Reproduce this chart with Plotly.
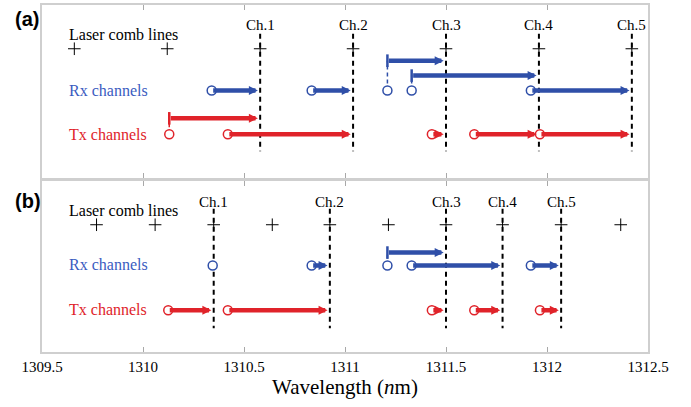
import plotly.graph_objects as go

# ---------------- data ----------------
ch_labels = ["Ch.1", "Ch.2", "Ch.3", "Ch.4", "Ch.5"]

# Panel (a)
comb_a = [1309.66, 1310.12, 1310.58, 1311.04, 1311.50, 1311.96, 1312.42]
ch_a = [1310.58, 1311.04, 1311.50, 1311.96, 1312.42]
rx_start_a = [1310.34, 1310.835, 1311.21, 1311.33, 1311.92]
rx_end_a = [1310.58, 1311.04, 1311.50, 1311.96, 1312.42]
rx_lift_a = [0, 0, 2, 1, 0]
tx_start_a = [1310.13, 1310.42, 1311.43, 1311.64, 1311.965]
tx_end_a = [1310.58, 1311.04, 1311.50, 1311.96, 1312.42]
tx_lift_a = [1, 0, 0, 0, 0]

# Panel (b)
comb_b = [1309.77, 1310.06, 1310.35, 1310.64, 1310.925, 1311.215, 1311.50, 1311.78, 1312.07, 1312.365]
ch_b = [1310.35, 1310.925, 1311.50, 1311.78, 1312.07]
rx_start_b = [1310.345, 1310.835, 1311.21, 1311.33, 1311.92]
rx_end_b = [1310.345, 1310.925, 1311.50, 1311.78, 1312.07]
rx_lift_b = [0, 0, 1, 0, 0]
tx_start_b = [1310.125, 1310.42, 1311.43, 1311.64, 1311.965]
tx_end_b = [1310.35, 1310.925, 1311.50, 1311.78, 1312.07]
tx_lift_b = [0, 0, 0, 0, 0]

x_ticks = [1309.5, 1310, 1310.5, 1311, 1311.5, 1312, 1312.5]
x_tick_text = ["1309.5", "1310", "1310.5", "1311", "1311.5", "1312", "1312.5"]

# ---------------- style ----------------
BLUE = "#2f4fa8"
BLUE_TXT = "#3a5bbf"
RED = "#e0232a"
FRAME = "#cfcfcf"
SERIF = "Liberation Serif"

# vertical layout of each panel (units = px from panel top)
panels = [
    dict(xa="x", ya="y", comb=comb_a, ch=ch_a,
         rx=(rx_start_a, rx_end_a, rx_lift_a), tx=(tx_start_a, tx_end_a, tx_lift_a),
         y_chlab=20, y_laser=30, y_comb=44, y_rx=[86, 71, 56], y_tx=[130, 114],
         y_rxlab=86, y_txlab=130, dash=(29, 147)),
    dict(xa="x2", ya="y2", comb=comb_b, ch=ch_b,
         rx=(rx_start_b, rx_end_b, rx_lift_b), tx=(tx_start_b, tx_end_b, tx_lift_b),
         y_chlab=21, y_laser=30, y_comb=44, y_rx=[85, 72], y_tx=[130],
         y_rxlab=84, y_txlab=129, dash=(28, 148)),
]

fig = go.Figure()
annotations = []

for p in panels:
    xa, ya = p["xa"], p["ya"]
    # channel dashed lines
    xs, ys = [], []
    for c in p["ch"]:
        xs += [c, c, None]
        ys += [p["dash"][0], p["dash"][1], None]
    fig.add_trace(go.Scatter(x=xs, y=ys, mode="lines", xaxis=xa, yaxis=ya,
                             line=dict(color="black", width=2, dash="5px,4px"),
                             hoverinfo="skip", showlegend=False))
    # comb lines
    fig.add_trace(go.Scatter(x=p["comb"], y=[p["y_comb"]] * len(p["comb"]), mode="markers",
                             xaxis=xa, yaxis=ya,
                             marker=dict(symbol="cross-thin", size=9,
                                         line=dict(color="black", width=1)),
                             hoverinfo="skip", showlegend=False))
    # channel labels
    for c, lab in zip(p["ch"], ch_labels):
        annotations.append(dict(x=c, y=p["y_chlab"], xref=xa, yref=ya, text=lab,
                                showarrow=False, font=dict(family=SERIF, size=15, color="black")))
    annotations.append(dict(x=1309.625, y=p["y_laser"], xref=xa, yref=ya, text="Laser comb lines",
                            xanchor="left", showarrow=False,
                            font=dict(family=SERIF, size=16, color="black")))
    annotations.append(dict(x=1309.625, y=p["y_rxlab"], xref=xa, yref=ya, text="Rx channels",
                            xanchor="left", showarrow=False,
                            font=dict(family=SERIF, size=16, color=BLUE_TXT)))
    annotations.append(dict(x=1309.625, y=p["y_txlab"], xref=xa, yref=ya, text="Tx channels",
                            xanchor="left", showarrow=False,
                            font=dict(family=SERIF, size=16, color=RED)))

    for (starts, ends, lifts), levels, col in [(p["rx"], p["y_rx"], BLUE), (p["tx"], p["y_tx"], RED)]:
        for s, e, lf in zip(starts, ends, lifts):
            yl = levels[lf]
            if lf > 0:
                # dashed connector from circle up to lifted arrow
                fig.add_trace(go.Scatter(x=[s, s], y=[levels[0], yl], mode="lines",
                                         xaxis=xa, yaxis=ya,
                                         line=dict(color=col, width=1.5, dash="4px,3px"),
                                         hoverinfo="skip", showlegend=False))
                fig.add_trace(go.Scatter(x=[s], y=[yl], mode="markers", xaxis=xa, yaxis=ya,
                                         marker=dict(symbol="line-ns", size=9,
                                                     line=dict(color=col, width=2.5)),
                                         hoverinfo="skip", showlegend=False))
            if e > s:
                annotations.append(dict(x=e, y=yl, ax=s, ay=yl, xref=xa, yref=ya,
                                        axref=xa, ayref=ya, text="", showarrow=True,
                                        arrowhead=2, arrowwidth=4.5, arrowsize=0.4,
                                        standoff=2.3, arrowcolor=col))
        # open circles at start
        fig.add_trace(go.Scatter(x=starts, y=[levels[0]] * len(starts), mode="markers",
                                 xaxis=xa, yaxis=ya,
                                 marker=dict(symbol="circle", size=9, color="white",
                                             line=dict(color=col, width=1.5)),
                                 hoverinfo="skip", showlegend=False))

annotations.append(dict(x=-0.048, y=0.960, xref="paper", yref="paper", text="<b>(a)</b>",
                        xanchor="left", yanchor="middle", showarrow=False,
                        font=dict(family="Liberation Sans", size=20, color="black")))
annotations.append(dict(x=-0.048, y=0.436, xref="paper", yref="paper", text="<b>(b)</b>",
                        xanchor="left", yanchor="middle", showarrow=False,
                        font=dict(family="Liberation Sans", size=20, color="black")))

xcommon = dict(range=[1309.5, 1312.5], tickvals=x_ticks, ticktext=x_tick_text,
               ticks="inside", ticklen=5,
               tickcolor="#a8a8a8", tickwidth=1, showline=True, linecolor=FRAME, linewidth=1.5,
               mirror="ticks", showgrid=False, zeroline=False)
ycommon = dict(showticklabels=False, ticks="", showline=True, linecolor=FRAME, linewidth=1.5,
               mirror=True, showgrid=False, zeroline=False)

fig.update_layout(
    width=691, height=407,
    margin=dict(l=42, r=43, t=3, b=55),
    paper_bgcolor="white", plot_bgcolor="white",
    font=dict(family=SERIF),
    xaxis=dict(**xcommon, anchor="y", showticklabels=False),
    yaxis=dict(**ycommon, anchor="x", domain=[0.5014, 1.0], range=[174, 0]),
    xaxis2=dict(**xcommon, anchor="y2", showticklabels=True,
                tickfont=dict(family=SERIF, size=15, color="black"),
                title=dict(text="Wavelength (<i>n</i>m)", standoff=4,
                           font=dict(family=SERIF, size=21, color="black"))),
    yaxis2=dict(**ycommon, anchor="x2", domain=[0.0, 0.4928], range=[172, 0]),
    annotations=annotations,
)

fig.write_html("out.html", config={"displayModeBar": False},
               post_script="document.body.style.margin='0px';document.body.style.padding='0px';")
